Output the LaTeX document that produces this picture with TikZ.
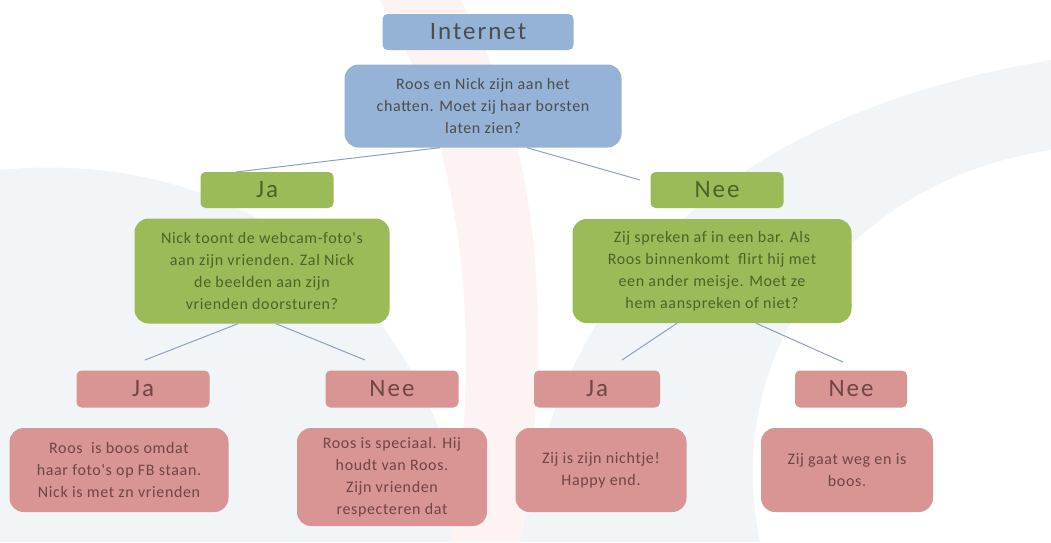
\documentclass[tikz,border=0pt]{standalone}
\usepackage{fontspec}
\setmainfont{Carlito}
\newfontfamily\bodyfont[LetterSpace=4]{Carlito}
\newfontfamily\lblfont[LetterSpace=8]{Carlito}
\definecolor{bluefill}{HTML}{95B3D7}
\definecolor{greenfill}{HTML}{9BBB59}
\definecolor{pinkfill}{HTML}{D99594}
\definecolor{bluetext}{HTML}{4C4C4C}
\definecolor{greentext}{HTML}{4E6228}
\definecolor{pinktext}{HTML}{704545}
\definecolor{linkcol}{HTML}{8AA2C2}
\definecolor{bgblue}{HTML}{F1F5F8}
\definecolor{bgpink}{HTML}{FCF3F2}
\begin{document}
\begin{tikzpicture}[x=1pt,y=-1pt,
  lbl/.style={rounded corners=5pt,inner sep=0pt,font=\lblfont\fontsize{25}{28}\selectfont},
  body/.style={rounded corners=14pt,inner sep=0pt,align=center,font=\bodyfont\fontsize{16}{22}\selectfont},
  blu/.style={fill=bluefill,text=bluetext},
  grn/.style={fill=greenfill,text=greentext},
  pnk/.style={fill=pinkfill,text=pinktext},
  link/.style={draw=linkcol,line width=1pt}]
\useasboundingbox (0,0) rectangle (1051,542);
\fill[white] (0,0) rectangle (1051,542);
% faint background decoration
\fill[bgblue] (0,170) .. controls (200,150) and (420,250) .. (470,542) -- (0,542) -- cycle;
\fill[bgblue] (520,542) .. controls (560,300) and (700,120) .. (1051,60) -- (1051,542) -- cycle;
\fill[bgpink] (380,0) .. controls (450,120) and (490,300) .. (450,542) -- (520,542) .. controls (560,300) and (530,120) .. (460,0) -- cycle;
\fill[white] (760,542) .. controls (720,350) and (850,180) .. (1051,150) -- (1051,542) -- cycle;

\node[lbl,blu,minimum width=191pt,minimum height=36pt] (inet) at (478,32) {Internet};
\node[body,blu,minimum width=277pt,minimum height=83pt] (q1) at (483,106) {Roos en Nick zijn aan het\\chatten. Moet zij haar borsten\\laten zien?};

\node[lbl,grn,minimum width=133pt,minimum height=36pt] (ja1) at (267,190) {Ja};
\node[body,grn,minimum width=255pt,minimum height=105pt] (q2) at (262,271) {Nick toont de webcam-foto's\\aan zijn vrienden. Zal Nick\\de beelden aan zijn\\vrienden doorsturen?};
\node[lbl,grn,minimum width=133pt,minimum height=36pt] (nee1) at (717,190) {Nee};
\node[body,grn,minimum width=279pt,minimum height=104pt] (q3) at (712,271) {Zij spreken af in een bar. Als\\Roos binnenkomt \ flirt hij met\\een ander meisje. Moet ze\\hem aanspreken of niet?};

\node[lbl,pnk,minimum width=133pt,minimum height=37pt] (ja2) at (143,389) {Ja};
\node[body,pnk,minimum width=219pt,minimum height=84pt] (a1) at (119,470) {Roos \ is boos omdat\\haar foto's op FB staan.\\Nick is met zn vrienden};
\node[lbl,pnk,minimum width=133pt,minimum height=37pt] (nee2) at (392,389) {Nee};
\node[body,pnk,minimum width=190pt,minimum height=98pt] (a2) at (392,477) {Roos is speciaal. Hij\\houdt van Roos.\\Zijn vrienden\\respecteren dat};
\node[lbl,pnk,minimum width=126pt,minimum height=37pt] (ja3) at (597,389) {Ja};
\node[body,pnk,minimum width=171pt,minimum height=84pt] (a3) at (601,470) {Zij is zijn nichtje!\\Happy end.};
\node[lbl,pnk,minimum width=112pt,minimum height=37pt] (nee3) at (851,389) {Nee};
\node[body,pnk,minimum width=172pt,minimum height=84pt] (a4) at (847,470) {Zij gaat weg en is\\boos.};

\coordinate (c1) at (236,172);
\coordinate (c2) at (640,180);
\coordinate (c3) at (145,360);
\coordinate (c4) at (365,360);
\coordinate (c5) at (622,360);
\coordinate (c6) at (843,362);
\draw[link] ([xshift=-43pt]q1.south) -- (c1);
\draw[link] ([xshift=44pt]q1.south) -- (c2);
\draw[link] ([xshift=-24pt]q2.south) -- (c3);
\draw[link] ([xshift=14pt]q2.south) -- (c4);
\draw[link] ([xshift=-35pt]q3.south) -- (c5);
\draw[link] ([xshift=44pt]q3.south) -- (c6);
\end{tikzpicture}
\end{document}
